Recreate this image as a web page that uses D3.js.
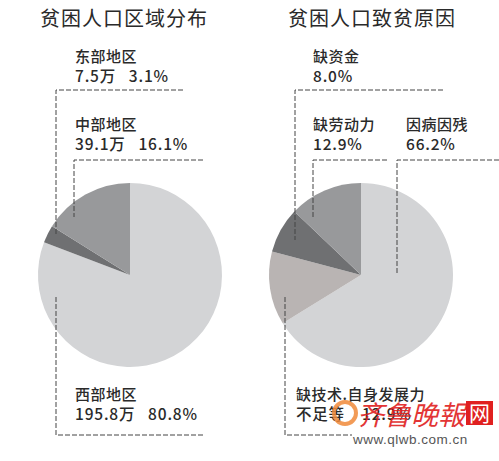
<!DOCTYPE html>
<html>
<head>
<meta charset="utf-8">
<script src="https://cdn.jsdelivr.net/npm/d3@7"></script>
<style>
  body { margin: 0; background: #fff; }
  text { font-family: "Noto Sans CJK SC", "Noto Sans", sans-serif; fill: #2a2a2a; }
</style>
</head>
<body>
<svg id="chart" width="499" height="461"></svg>
<script>
// left pie: population by region
const regionNames = ['西部地区', '东部地区', '中部地区'];
const regionPop = [195.8, 7.5, 39.1];   // 万人
const regionPct = [80.8, 3.1, 16.1];
const regionColors = ['#d3d4d6', '#6f7072', '#98999b'];

// right pie: causes of poverty
const causeNames = ['因病因残', '缺技术.自身发展力不足等', '缺资金', '缺劳动力'];
const causePct = [66.2, 12.9, 8.0, 12.9];
const causeColors = ['#d3d4d6', '#b9b4b3', '#6f7072', '#98999b'];

const titles = ['贫困人口区域分布', '贫困人口致贫原因'];

const svg = d3.select('#chart');
const R = 92;

const pie = d3.pie().sort(null).value(d => d.value);
const arc = d3.arc().innerRadius(0).outerRadius(R);

function drawPie(cx, cy, names, values, colors) {
  const data = names.map((n, i) => ({ name: n, value: values[i], color: colors[i] }));
  const g = svg.append('g').attr('transform', `translate(${cx},${cy})`);
  g.selectAll('path')
    .data(pie(data))
    .enter()
    .append('path')
    .attr('d', arc)
    .attr('fill', d => d.data.color);
}

drawPie(130, 275, regionNames, regionPct, regionColors);
drawPie(361, 275, causeNames, causePct, causeColors);

// titles
svg.append('text').attr('x', 124).attr('y', 26).attr('text-anchor', 'middle')
  .style('font-size', '20px').style('letter-spacing', '1px').text(titles[0]);
svg.append('text').attr('x', 372).attr('y', 26).attr('text-anchor', 'middle')
  .style('font-size', '20px').style('letter-spacing', '1px').text(titles[1]);

// callout lines (dashed leaders)
const leaders = [
  [[183, 90], [56, 90], [56, 234]],
  [[203, 160], [74, 160], [74, 217]],
  [[56, 297], [56, 435], [203, 435]],
  [[443, 90], [295, 90], [295, 240]],
  [[387, 160], [313, 160], [313, 217]],
  [[499, 160], [397, 160], [397, 275]],
  [[285, 297], [285, 435], [352, 435]]
];
const line = d3.line();
svg.selectAll('path.leader')
  .data(leaders)
  .enter()
  .append('path')
  .attr('class', 'leader')
  .attr('d', line)
  .attr('fill', 'none')
  .attr('stroke', '#444')
  .attr('stroke-width', 1)
  .attr('stroke-dasharray', '5,2');

// labels
function label(x, y, l1, l2) {
  svg.append('text').attr('x', x).attr('y', y).style('font-size', '15px')
    .style('font-weight', 500).style('letter-spacing', '0.5px').text(l1);
  svg.append('text').attr('x', x).attr('y', y + 20).style('font-size', '15.5px')
    .style('font-weight', 500).style('letter-spacing', '0.8px')
    .attr('xml:space', 'preserve').text(l2);
}
const fmtPct = v => v.toFixed(1) + '%';
label(75, 62, regionNames[1], regionPop[1] + '万   ' + fmtPct(regionPct[1]));
label(75, 130, regionNames[2], regionPop[2] + '万   ' + fmtPct(regionPct[2]));
label(75, 400, regionNames[0], regionPop[0] + '万   ' + fmtPct(regionPct[0]));

label(313, 62, causeNames[2], fmtPct(causePct[2]));
label(313, 130, causeNames[3], fmtPct(causePct[3]));
label(406, 130, causeNames[0], fmtPct(causePct[0]));
label(296, 400, '缺技术.自身发展力', '不足等    ' + fmtPct(causePct[1]));

// watermark
const wm = svg.append('g');
wm.append('circle').attr('cx', 345).attr('cy', 413).attr('r', 11)
  .attr('fill', 'none').attr('stroke', '#f08a3a').attr('stroke-width', 4).attr('opacity', 0.85);
wm.append('text').attr('x', 357).attr('y', 425).style('font-size', '27px')
  .style('fill', '#e02020').style('font-style', 'italic').style('opacity', 0.9).text('齐鲁晚報');
wm.append('rect').attr('x', 466).attr('y', 401).attr('width', 27).attr('height', 24).attr('fill', '#e02020');
wm.append('text').attr('x', 479.5).attr('y', 421).attr('text-anchor', 'middle')
  .style('font-size', '21px').style('fill', '#fff').text('网');
wm.append('text').attr('x', 353).attr('y', 444).style('font-size', '13.5px')
  .style('fill', '#555').style('font-family', 'Liberation Sans, Arial, sans-serif')
  .style('letter-spacing', '0.5px').text('www.qlwb.com.cn');
</script>
</body>
</html>
